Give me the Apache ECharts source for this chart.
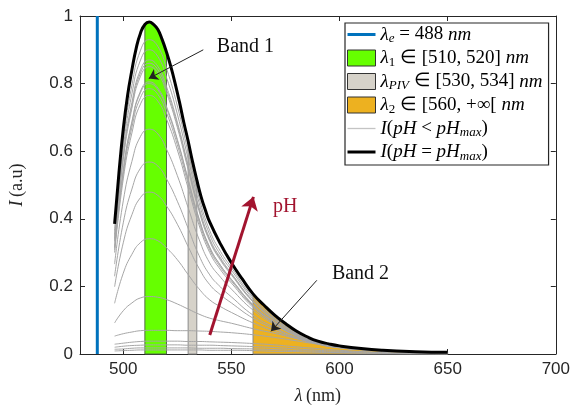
<!DOCTYPE html>
<html><head><meta charset="utf-8">
<script src="https://cdn.jsdelivr.net/npm/echarts@6/dist/echarts.min.js"></script>
<style>html,body{margin:0;padding:0;background:#fff}#c{width:573px;height:410px}</style>
</head><body><div id="c"></div>
<script>
// ---- data ----
const blackWavelengths = [496,498,500,502,504,506,508,510,512,514,516,518,520,522,524,526,528,530,532,534,536,538,540,545,550,555,560,565,570,575,580,585,590,595,600,610,620,635,650];
const blackIntensity   = [0.385,0.535,0.665,0.765,0.84,0.905,0.95,0.975,0.982,0.975,0.96,0.93,0.893,0.85,0.80,0.745,0.685,0.63,0.57,0.515,0.465,0.425,0.39,0.325,0.27,0.222,0.178,0.145,0.115,0.09,0.068,0.051,0.038,0.03,0.024,0.016,0.011,0.007,0.005];

const grayWavelengths = [496,500,504,508,512,516,520,525,530,535,540,545,550,560,570,580,590,600,615,630,650];
const gray01 = [0.365,0.630,0.795,0.899,0.930,0.910,0.845,0.734,0.597,0.464,0.365,0.303,0.256,0.168,0.109,0.064,0.036,0.022,0.013,0.008,0.005];
const gray02 = [0.353,0.609,0.770,0.870,0.900,0.880,0.818,0.710,0.578,0.449,0.353,0.293,0.248,0.163,0.105,0.062,0.035,0.022,0.013,0.008,0.005];
const gray03 = [0.341,0.589,0.744,0.841,0.870,0.851,0.791,0.686,0.559,0.434,0.341,0.284,0.239,0.157,0.102,0.060,0.034,0.021,0.012,0.008,0.004];
const gray04 = [0.337,0.582,0.735,0.832,0.860,0.841,0.782,0.679,0.552,0.429,0.337,0.280,0.237,0.156,0.101,0.059,0.034,0.021,0.012,0.008,0.004];
const gray05 = [0.333,0.575,0.727,0.822,0.850,0.831,0.773,0.671,0.546,0.424,0.333,0.277,0.234,0.154,0.099,0.059,0.033,0.020,0.012,0.008,0.004];
const gray06 = [0.316,0.545,0.688,0.778,0.805,0.787,0.732,0.635,0.517,0.402,0.316,0.262,0.221,0.146,0.094,0.056,0.031,0.019,0.011,0.007,0.004];
const gray07 = [0.314,0.542,0.684,0.774,0.800,0.782,0.727,0.631,0.514,0.399,0.314,0.261,0.220,0.145,0.094,0.055,0.031,0.019,0.011,0.007,0.004];
const gray08 = [0.308,0.531,0.671,0.759,0.785,0.768,0.714,0.619,0.504,0.392,0.308,0.256,0.216,0.142,0.092,0.054,0.031,0.019,0.011,0.007,0.004];
const gray09 = [0.300,0.518,0.654,0.740,0.765,0.748,0.695,0.604,0.491,0.382,0.300,0.249,0.210,0.138,0.090,0.053,0.030,0.018,0.011,0.007,0.004];
const gray10 = [0.266,0.453,0.570,0.644,0.665,0.651,0.606,0.528,0.433,0.340,0.269,0.227,0.192,0.130,0.087,0.054,0.032,0.021,0.012,0.007,0.003];
const gray11 = [0.230,0.388,0.488,0.550,0.568,0.556,0.518,0.452,0.372,0.292,0.234,0.198,0.169,0.115,0.078,0.049,0.029,0.019,0.011,0.007,0.003];
const gray12 = [0.199,0.329,0.412,0.463,0.479,0.469,0.438,0.384,0.318,0.254,0.205,0.175,0.151,0.106,0.074,0.048,0.030,0.020,0.011,0.006,0.003];
const gray13 = [0.150,0.239,0.295,0.330,0.341,0.335,0.314,0.279,0.235,0.193,0.160,0.140,0.123,0.092,0.067,0.046,0.031,0.021,0.012,0.007,0.002];
const gray14 = [0.092,0.128,0.151,0.166,0.170,0.168,0.161,0.148,0.133,0.118,0.106,0.098,0.091,0.075,0.061,0.046,0.033,0.023,0.013,0.007,0.002];
const gray15 = [0.053,0.060,0.065,0.069,0.070,0.070,0.070,0.069,0.069,0.068,0.067,0.065,0.063,0.057,0.049,0.039,0.029,0.021,0.012,0.006,0.001];
const gray16 = [0.029,0.032,0.035,0.037,0.038,0.038,0.038,0.038,0.037,0.037,0.036,0.035,0.034,0.031,0.027,0.021,0.016,0.011,0.006,0.003,0.001];
const gray17 = [0.020,0.023,0.025,0.026,0.027,0.027,0.027,0.027,0.026,0.026,0.026,0.025,0.024,0.022,0.019,0.015,0.011,0.008,0.005,0.002,0.001];
const gray18 = [0.014,0.015,0.017,0.018,0.018,0.018,0.018,0.018,0.018,0.017,0.017,0.017,0.016,0.015,0.013,0.010,0.008,0.005,0.003,0.001,0.000];
const gray19 = [0.009,0.010,0.011,0.012,0.012,0.012,0.012,0.012,0.012,0.012,0.011,0.011,0.011,0.010,0.008,0.007,0.005,0.004,0.002,0.001,0.000];
const grayCurves = [gray01,gray02,gray03,gray04,gray05,gray06,gray07,gray08,gray09,gray10,gray11,gray12,gray13,gray14,gray15,gray16,gray17,gray18,gray19];

const excitationWavelength = 488;
const band1Range = [510, 520];
const bandPIVRange = [530, 534];
const band2Range = [560, 650];
const xTickValues = [500, 550, 600, 650, 700];
const yTickValues = [0, 0.2, 0.4, 0.6, 0.8, 1];

// ---- build ----
const zip = (xs, ys) => xs.map((x, i) => [x, ys[i]]);
const blackData = zip(blackWavelengths, blackIntensity);

function bandPoints(range) {
  const pts = [[range[0], 0]];
  blackData.forEach(p => { if (p[0] >= range[0] && p[0] <= range[1]) pts.push(p); });
  pts.push([range[1], 0]);
  return pts;
}
function bandSeries(name, range, fill, stroke) {
  const pts = bandPoints(range);
  return {
    type: 'custom', name: name, z: 1, silent: true,
    itemStyle: { color: fill },
    data: pts,
    encode: { x: 0, y: 1 },
    renderItem: function (params, api) {
      if (params.dataIndex !== 0) return null;
      return {
        type: 'polygon',
        shape: { points: pts.map(p => api.coord(p)) },
        style: { fill: fill, stroke: stroke, lineWidth: 1 }
      };
    }
  };
}

const serif = 'Liberation Serif';
const FS = 19;
const richBase = {
  i: { fontFamily: serif, fontStyle: 'italic', fontSize: FS, lineHeight: 22, color: '#000' },
  r: { fontFamily: serif, fontSize: FS, lineHeight: 22, color: '#000' },
  s: { fontFamily: serif, fontStyle: 'italic', fontSize: 13, lineHeight: 10, verticalAlign: 'bottom', color: '#000' },
  d: { fontFamily: serif, fontSize: 13, lineHeight: 10, verticalAlign: 'bottom', color: '#000' }
};
const legendText = {
  exc: '{i|λ}{s|e}{r| = 488 }{i|nm}',
  b1: '{i|λ}{d|1}{r| ∈ [510, 520] }{i|nm}',
  piv: '{i|λ}{s|PIV}{r| ∈ [530, 534] }{i|nm}',
  b2: '{i|λ}{d|2}{r| ∈ [560, +∞[ }{i|nm}',
  gray: '{i|I}{r|(}{i|pH}{r| < }{i|pH}{s|max}{r|)}',
  black: '{i|I}{r|(}{i|pH}{r| = }{i|pH}{s|max}{r|)}'
};

const series = [];
series.push(bandSeries('b1', band1Range, '#66ff00', '#556b4a'));
series.push(bandSeries('piv', bandPIVRange, '#d6d2c9', '#8a8a8a'));
series.push(bandSeries('b2', band2Range, '#edb120', '#8a8a8a'));
grayCurves.forEach(c => series.push({
  type: 'line', name: 'gray', data: zip(grayWavelengths, c), smooth: 0.5,
  symbol: 'none', z: 2, silent: true, lineStyle: { color: '#a6a6a6', width: 1 }
}));
series.push({
  type: 'line', name: 'black', data: blackData, smooth: 0.5,
  symbol: 'none', z: 3, silent: true, lineStyle: { color: '#000', width: 3 }
});
series.push({
  type: 'line', name: 'exc', data: [[excitationWavelength, 0], [excitationWavelength, 1]],
  symbol: 'none', z: 10, silent: true, lineStyle: { color: '#0072bd', width: 3 },
  markLine: {
    silent: true, animation: false, symbol: ['none', 'arrow'], symbolSize: 9,
    label: { show: false },
    data: [
      [{ coord: [537.0, 0.90], lineStyle: { color: '#222', width: 1, type: 'solid' } },
       { coord: [511.8, 0.815], symbolSize: 9, lineStyle: { color: '#222', width: 1, type: 'solid' } }],
      [{ coord: [589.5, 0.218], lineStyle: { color: '#222', width: 1, type: 'solid' } },
       { coord: [568.3, 0.067], symbolSize: 9, lineStyle: { color: '#222', width: 1, type: 'solid' } }],
      [{ coord: [540.0, 0.056], lineStyle: { color: '#a2142f', width: 3, type: 'solid' } },
       { coord: [560.2, 0.465], symbolSize: 13, lineStyle: { color: '#a2142f', width: 3, type: 'solid' } }]
    ]
  },
  markPoint: {
    silent: true, animation: false, symbol: 'circle', symbolSize: 1,
    itemStyle: { color: 'rgba(0,0,0,0)' },
    label: { show: true, position: 'inside', formatter: '{b}', fontFamily: serif, fontSize: 20, color: '#111' },
    data: [
      { name: 'Band 1', coord: [556.5, 0.909] },
      { name: 'Band 2', coord: [609.7, 0.238] },
      { name: 'pH', coord: [574.9, 0.435], label: { color: '#a2142f' } }
    ]
  }
});

const axisColor = '#262626';
const chart = echarts.init(document.getElementById('c'), null, { renderer: 'canvas' });
chart.setOption({
  animation: false,
  backgroundColor: '#fff',
  grid: { left: 79, right: 14, top: 16, bottom: 54 },
  xAxis: [{
    type: 'value', min: 480, max: 700, position: 'bottom',
    axisLine: { show: true, onZero: false, lineStyle: { color: axisColor, width: 1 } },
    axisTick: { show: true, inside: true, length: 5, customValues: xTickValues, lineStyle: { color: axisColor } },
    axisLabel: { customValues: xTickValues, color: axisColor, fontSize: 17, fontFamily: 'Liberation Sans', margin: 7 },
    splitLine: { show: false },
    name: '{i|λ} {r|(nm)}', nameLocation: 'middle', nameGap: 33,
    nameTextStyle: { color: axisColor, rich: {
      i: { fontFamily: serif, fontStyle: 'italic', fontSize: 18, color: axisColor },
      r: { fontFamily: serif, fontSize: 18, color: axisColor } } }
  }, {
    type: 'value', min: 480, max: 700, position: 'top',
    axisLine: { show: true, onZero: false, lineStyle: { color: axisColor, width: 1 } },
    axisTick: { show: true, inside: true, length: 5, customValues: xTickValues, lineStyle: { color: axisColor } },
    axisLabel: { show: false, customValues: xTickValues },
    splitLine: { show: false }
  }],
  yAxis: [{
    type: 'value', min: 0, max: 1, interval: 0.2, position: 'left',
    axisLine: { show: true, onZero: false, lineStyle: { color: axisColor, width: 1 } },
    axisTick: { show: true, inside: true, length: 5, lineStyle: { color: axisColor } },
    axisLabel: { color: axisColor, fontSize: 17, fontFamily: 'Liberation Sans', margin: 7 },
    splitLine: { show: false },
    name: '{i|I} {r|(a.u)}', nameLocation: 'middle', nameGap: 54,
    nameTextStyle: { color: axisColor, rich: {
      i: { fontFamily: serif, fontStyle: 'italic', fontSize: 18, color: axisColor },
      r: { fontFamily: serif, fontSize: 18, color: axisColor } } }
  }, {
    type: 'value', min: 0, max: 1, interval: 0.2, position: 'right',
    axisLine: { show: true, onZero: false, lineStyle: { color: axisColor, width: 1 } },
    axisTick: { show: true, inside: true, length: 5, lineStyle: { color: axisColor } },
    axisLabel: { show: false },
    splitLine: { show: false }
  }],
  legend: {
    orient: 'vertical', left: 345, top: 23,
    itemWidth: 28, itemHeight: 16, itemGap: 3,
    padding: [2, 6, 2, 2],
    borderColor: axisColor, borderWidth: 1.2, backgroundColor: '#fff',
    selectedMode: false,
    data: [
      { name: 'exc', icon: 'path://M0 0H28V3H0Z', itemStyle: { color: '#0072bd', borderWidth: 0 } },
      { name: 'b1', icon: 'rect', itemStyle: { color: '#66ff00', borderColor: '#333', borderWidth: 1 } },
      { name: 'piv', icon: 'rect', itemStyle: { color: '#d6d2c9', borderColor: '#333', borderWidth: 1 } },
      { name: 'b2', icon: 'rect', itemStyle: { color: '#edb120', borderColor: '#333', borderWidth: 1 } },
      { name: 'gray', icon: 'path://M0 0H28V1.3H0Z', itemStyle: { color: '#c4c4c4', borderWidth: 0 } },
      { name: 'black', icon: 'path://M0 0H28V3H0Z', itemStyle: { color: '#000', borderWidth: 0 } }
    ],
    formatter: n => legendText[n],
    textStyle: { fontFamily: serif, fontSize: FS, color: '#000', rich: richBase }
  },
  series: series
});
</script></body></html>
